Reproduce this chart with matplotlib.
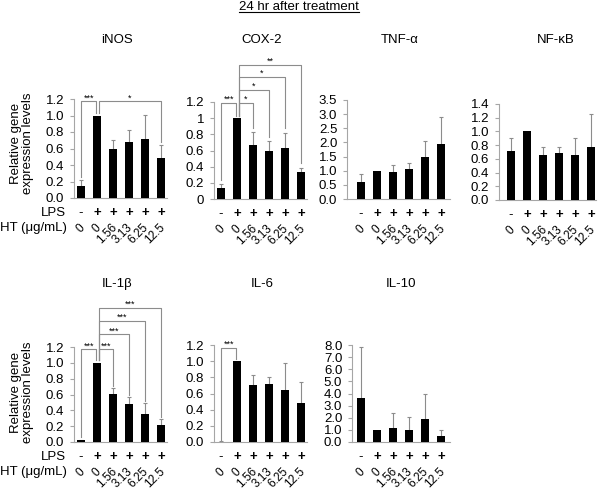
import matplotlib
matplotlib.use("Agg")
import matplotlib.pyplot as plt
import numpy as np
from matplotlib.lines import Line2D

plt.rcParams['font.family'] = ['Liberation Sans', 'DejaVu Sans']

# ---------------- data ----------------
lps_labels = ['-', '+', '+', '+', '+', '+']
ht_labels = ['0', '0', '1.56', '3.13', '6.25', '12.5']

inos_vals = [0.14, 1.00, 0.59, 0.68, 0.72, 0.48]
inos_err = [0.08, 0.00, 0.11, 0.14, 0.29, 0.16]

cox2_vals = [0.14, 1.00, 0.67, 0.60, 0.63, 0.34]
cox2_err = [0.05, 0.00, 0.16, 0.12, 0.19, 0.04]

tnf_vals = [0.59, 1.00, 0.95, 1.06, 1.47, 1.93]
tnf_err = [0.30, 0.00, 0.26, 0.22, 0.57, 0.98]

nfkb_vals = [0.71, 1.00, 0.66, 0.68, 0.65, 0.78]
nfkb_err = [0.20, 0.00, 0.12, 0.09, 0.25, 0.47]

il1b_vals = [0.02, 1.00, 0.61, 0.48, 0.36, 0.22]
il1b_err = [0.01, 0.00, 0.07, 0.09, 0.13, 0.07]

il6_vals = [0.005, 1.00, 0.71, 0.715, 0.64, 0.48]
il6_err = [0.003, 0.00, 0.12, 0.09, 0.34, 0.26]

il10_vals = [3.6, 1.0, 1.15, 1.0, 1.9, 0.52]
il10_err = [4.2, 0.0, 1.23, 1.1, 2.07, 0.44]

# brackets: (x_left, x_right, height, left_leg_bottom, right_leg_bottom, label)
inos_br = [(0, 0.95, 1.17, 0.26, 1.03, '***'), (1.12, 5, 1.17, 1.03, 0.68, '*')]
cox2_br = [(0, 0.95, 1.19, 0.23, 1.03, '***'), (1.12, 2, 1.19, 1.03, 0.88, '*'),
           (1.12, 3, 1.35, 1.03, 0.77, '*'), (1.12, 4, 1.51, 1.03, 0.88, '*'),
           (1.12, 5, 1.66, 1.03, 0.44, '**')]
il1b_br = [(0, 0.95, 1.17, 0.06, 1.03, '***'), (1.12, 2, 1.17, 1.03, 0.71, '***'),
           (1.12, 3, 1.36, 1.03, 0.60, '***'), (1.12, 4, 1.53, 1.03, 0.52, '***'),
           (1.12, 5, 1.69, 1.03, 0.32, '***')]
il6_br = [(0, 0.95, 1.16, 0.03, 1.03, '***')]

W, H = 600, 500
fig = plt.figure(figsize=(W / 100, H / 100), dpi=100)

GREY = '#8c8c8c'
SPINE = '#a6a6a6'
SP = 16.0  # px per bar


def fx(x):
    return x / W


def fy(y):
    return 1 - y / H


def panel(name, vals, err, axis_x, bar0_x, end_x, y0, ytop, ymax, step, fmt,
          title_xy, brackets=(), left_labels=False, ylabel_y=None):
    x0u = -(bar0_x - axis_x) / SP
    x1u = 5 + (end_x - (bar0_x + 5 * SP)) / SP
    ax = fig.add_axes([fx(axis_x), fy(y0), (end_x - axis_x) / W, (y0 - ytop) / H])
    x = np.arange(len(vals))
    ax.bar(x, vals, width=0.45, color='black', zorder=3)
    v = np.array(vals)
    e = np.array(err)
    m = e > 0
    ax.vlines(x[m], v[m], v[m] + e[m], color=GREY, lw=0.8, zorder=2)
    ax.hlines(v[m] + e[m], x[m] - 0.1, x[m] + 0.1, color=GREY, lw=0.8, zorder=2)
    ax.set_xlim(x0u, x1u)
    ax.set_ylim(0, ymax)
    ticks = np.round(np.arange(0, ymax + step / 2, step), 3)
    ax.set_yticks(ticks)
    if fmt == 'g':
        ax.set_yticklabels(['%g' % t for t in ticks])
    else:
        ax.set_yticklabels([fmt % t for t in ticks])
    ax.set_xticks([])
    for s in ['top', 'right']:
        ax.spines[s].set_visible(False)
    for s in ['left', 'bottom']:
        ax.spines[s].set_color(SPINE)
        ax.spines[s].set_linewidth(0.8)
    ax.tick_params(axis='y', length=3, width=0.8, color=SPINE, labelsize=9.5, pad=4)
    ax.patch.set_alpha(0)
    # LPS / HT rows
    for i in range(len(vals)):
        ax.annotate(lps_labels[i], xy=(i, 0), xycoords='data', xytext=(0, -15),
                    textcoords='offset pixels', ha='center', va='center',
                    fontsize=9.5, fontweight='bold' if lps_labels[i] == '+' else 'normal',
                    annotation_clip=False)
        ax.annotate(ht_labels[i], xy=(i, 0), xycoords='data', xytext=(2, -28),
                    textcoords='offset pixels', ha='right', va='center', rotation=45,
                    rotation_mode='anchor', fontsize=8.5, annotation_clip=False)
    # brackets
    for (xa, xb, h, la, lb, lab) in brackets:
        ax.plot([xa, xa, xb, xb], [la, h, h, lb], color=GREY, lw=0.8, clip_on=False, zorder=1)
        ax.annotate(lab, xy=((xa + xb) / 2, h), xytext=(0, 1), textcoords='offset pixels',
                    ha='center', va='baseline', fontsize=6.5, annotation_clip=False)
    fig.text(fx(title_xy[0]), fy(title_xy[1]), name, ha='center', va='baseline', fontsize=9.5)
    if left_labels:
        fig.text(fx(66), fy(y0 + 15), 'LPS', ha='right', va='center', fontsize=9.5)
        fig.text(fx(0), fy(y0 + 30), 'HT (\u03bcg/mL)', ha='left', va='center', fontsize=9.5)
        fig.text(fx(22), fy(ylabel_y), 'Relative gene\nexpression levels', rotation=90,
                 ha='center', va='center', fontsize=9.5, linespacing=1.05)
    return ax


panel('iNOS', inos_vals, inos_err, 74, 81, 167, 198, 99, 1.2, 0.2, '%.1f',
      (117, 43), inos_br, left_labels=True, ylabel_y=143)
panel('COX-2', cox2_vals, cox2_err, 214, 221, 307, 199, 102, 1.2, 0.2, 'g',
      (262, 43), cox2_br)
panel('TNF-\u03b1', tnf_vals, tnf_err, 347, 361, 450, 199, 100, 3.5, 0.5, '%.1f',
      (400, 43))
panel('NF-\u03baB', nfkb_vals, nfkb_err, 499, 511, 596, 200, 104, 1.4, 0.2, '%.1f',
      (556, 43))
panel('IL-1\u03b2', il1b_vals, il1b_err, 74, 81, 167, 442, 347, 1.2, 0.2, '%.1f',
      (117, 287), il1b_br, left_labels=True, ylabel_y=392)
panel('IL-6', il6_vals, il6_err, 214, 221, 307, 442, 345, 1.2, 0.2, '%.1f',
      (262, 287), il6_br)
panel('IL-10', il10_vals, il10_err, 352, 361, 450, 442, 345, 8.0, 1.0, '%.1f',
      (401, 287))

# main title with underline
t = fig.text(fx(299), fy(10), '24 hr after treatment', ha='center', va='baseline', fontsize=9.5)
fig.canvas.draw()
bb = t.get_window_extent(renderer=fig.canvas.get_renderer())
uy = fy(12)
fig.add_artist(Line2D([bb.x0 / W, bb.x1 / W], [uy, uy], transform=fig.transFigure,
                      color='black', lw=0.8))

fig.savefig('out.png', dpi=100)
